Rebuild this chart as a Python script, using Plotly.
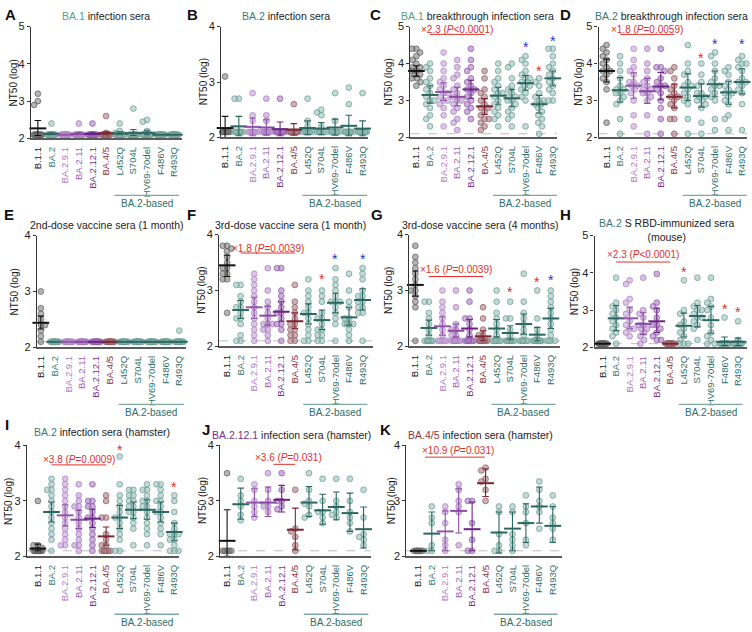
import math
import plotly.graph_objects as go

W, H = 752, 632

CATS = ["B.1.1", "BA.2", "BA.2.9.1", "BA.2.11", "BA.2.12.1", "BA.4/5",
        "L452Q", "S704L", "HV69-70del", "F486V", "R493Q"]

TEAL_T = "#2f6e69"
LABEL_COL = ["#1a1a1a", "#3a7a74", "#b07cc4", "#9d62b4", "#74308c", "#8a3542",
             TEAL_T, TEAL_T, TEAL_T, TEAL_T, TEAL_T]
TEAL_F = "rgba(145,188,181,0.55)"
TEAL_L = "rgba(100,150,143,0.85)"
PT_FILL = ["rgba(120,120,120,0.55)", TEAL_F, "rgba(196,160,214,0.6)", "rgba(190,150,208,0.6)",
           "rgba(170,124,192,0.6)", "rgba(170,124,130,0.6)", TEAL_F, TEAL_F, TEAL_F, TEAL_F, TEAL_F]
PT_LINE = ["rgba(88,88,88,0.85)", TEAL_L, "rgba(168,126,192,0.85)", "rgba(160,115,186,0.85)",
           "rgba(135,84,164,0.85)", "rgba(140,88,96,0.85)", TEAL_L, TEAL_L, TEAL_L, TEAL_L, TEAL_L]
TEAL_M = "#2b6761"
MEAN_COL = ["#111111", TEAL_M, "#9256aa", "#8a4aa4", "#6c2386", "#7c2633",
            TEAL_M, TEAL_M, TEAL_M, TEAL_M, TEAL_M]

# ---------------- data (log10 NT50) ----------------
A_vals = [
    [3.2, 3.0, 2.9, 2.1, 2.1, 2.1, 2.1, 2.1, 2.1, 2.1, 2.1, 2.1, 2.1, 2.1],
    [2.4, 2.1, 2.1, 2.1, 2.1, 2.1, 2.1, 2.1, 2.1, 2.1, 2.1, 2.1, 2.1, 2.1],
    [2.1, 2.1, 2.1, 2.1, 2.1, 2.1, 2.1, 2.1, 2.1, 2.1, 2.1, 2.1, 2.1, 2.1],
    [2.4, 2.1, 2.1, 2.1, 2.1, 2.1, 2.1, 2.1, 2.1, 2.1, 2.1, 2.1, 2.1, 2.1],
    [2.4, 2.1, 2.1, 2.1, 2.1, 2.1, 2.1, 2.1, 2.1, 2.1, 2.1, 2.1, 2.1, 2.1],
    [2.6, 2.15, 2.1, 2.1, 2.1, 2.1, 2.1, 2.1, 2.1, 2.1, 2.1, 2.1, 2.1, 2.1],
    [2.4, 2.2, 2.15, 2.1, 2.1, 2.1, 2.1, 2.1, 2.1, 2.1, 2.1, 2.1, 2.1, 2.1],
    [2.8, 2.1, 2.1, 2.1, 2.1, 2.1, 2.1, 2.1, 2.1, 2.1, 2.1, 2.1, 2.1, 2.1],
    [2.5, 2.45, 2.2, 2.1, 2.1, 2.1, 2.1, 2.1, 2.1, 2.1, 2.1, 2.1, 2.1, 2.1],
    [2.1, 2.1, 2.1, 2.1, 2.1, 2.1, 2.1, 2.1, 2.1, 2.1, 2.1, 2.1, 2.1, 2.1],
    [2.1, 2.1, 2.1, 2.1, 2.1, 2.1, 2.1, 2.1, 2.1, 2.1, 2.1, 2.1, 2.1, 2.1],
]
A_mean = [2.27, 2.12, 2.1, 2.12, 2.12, 2.14, 2.13, 2.14, 2.15, 2.1, 2.1]
A_lo = [2.08, 2.1, 2.1, 2.1, 2.1, 2.1, 2.1, 2.08, 2.1, 2.1, 2.1]
A_hi = [2.48, 2.15, 2.1, 2.15, 2.15, 2.18, 2.18, 2.24, 2.22, 2.1, 2.1]

B_vals = [
    [3.1, 2.1, 2.1, 2.1, 2.1, 2.1, 2.1, 2.1, 2.1, 2.1],
    [2.7, 2.7, 2.1, 2.1, 2.1, 2.1, 2.1, 2.1, 2.1, 2.1],
    [2.8, 2.4, 2.3, 2.1, 2.1, 2.1, 2.1, 2.1, 2.1, 2.1],
    [2.7, 2.4, 2.3, 2.1, 2.1, 2.1, 2.1, 2.1, 2.1, 2.1],
    [2.7, 2.1, 2.1, 2.1, 2.1, 2.1, 2.1, 2.1, 2.1, 2.1],
    [2.6, 2.1, 2.1, 2.1, 2.1, 2.1, 2.1, 2.1, 2.1, 2.1],
    [2.7, 2.3, 2.2, 2.1, 2.1, 2.1, 2.1, 2.1, 2.1, 2.1],
    [2.5, 2.45, 2.4, 2.2, 2.1, 2.1, 2.1, 2.1, 2.1, 2.1],
    [2.8, 2.3, 2.1, 2.1, 2.1, 2.1, 2.1, 2.1, 2.1, 2.1],
    [2.9, 2.6, 2.1, 2.1, 2.1, 2.1, 2.1, 2.1, 2.1, 2.1],
    [2.8, 2.1, 2.1, 2.1, 2.1, 2.1, 2.1, 2.1, 2.1, 2.1],
]
B_mean = [2.17, 2.2, 2.19, 2.18, 2.15, 2.14, 2.17, 2.16, 2.18, 2.21, 2.16]
B_lo = [2.0, 2.03, 2.03, 2.04, 2.03, 2.04, 2.05, 2.05, 2.04, 2.03, 2.03]
B_hi = [2.38, 2.38, 2.35, 2.32, 2.28, 2.25, 2.3, 2.27, 2.33, 2.4, 2.3]

C_vals = [
    [4.4, 4.4, 4.3, 4.2, 4.1, 4.0, 3.9, 3.9, 3.8, 3.8, 3.7, 3.7, 3.6, 3.6, 3.5, 3.4],
    [4.0, 3.9, 3.8, 3.6, 3.5, 3.4, 3.3, 3.2, 3.1, 3.0, 3.0, 2.9, 2.8, 2.6, 2.5, 2.3],
    [4.3, 4.0, 3.8, 3.6, 3.5, 3.4, 3.3, 3.2, 3.2, 3.1, 3.0, 3.0, 2.9, 2.8, 2.6, 2.3],
    [4.1, 3.9, 3.7, 3.6, 3.4, 3.3, 3.2, 3.1, 3.0, 2.9, 2.8, 2.7, 2.5, 2.4, 2.2, 3.0],
    [4.4, 4.1, 3.9, 3.8, 3.6, 3.5, 3.4, 3.3, 3.2, 3.1, 3.0, 2.9, 2.8, 2.7, 2.5, 3.3],
    [3.8, 3.6, 3.3, 3.2, 3.1, 3.0, 2.9, 2.8, 2.7, 2.6, 2.5, 2.5, 2.4, 2.3, 2.2, 2.8],
    [4.0, 3.8, 3.6, 3.5, 3.4, 3.3, 3.2, 3.1, 3.0, 2.9, 2.8, 2.7, 2.6, 2.5, 2.3, 3.2],
    [4.0, 3.9, 3.6, 3.4, 3.3, 3.2, 3.1, 3.0, 2.9, 2.8, 2.7, 2.6, 2.5, 2.3, 3.0, 3.1],
    [4.2, 4.1, 4.0, 3.8, 3.7, 3.6, 3.5, 3.5, 3.4, 3.4, 3.3, 3.2, 3.1, 3.0, 2.3, 3.6],
    [3.6, 3.5, 3.4, 3.2, 3.1, 3.0, 2.9, 2.8, 2.7, 2.6, 2.5, 2.4, 2.3, 2.1, 3.0, 2.9],
    [4.4, 4.4, 4.2, 4.0, 3.9, 3.8, 3.7, 3.6, 3.5, 3.4, 3.3, 3.2, 3.0, 3.0, 3.6, 3.8],
]
C_mean = [3.8, 3.15, 3.23, 3.1, 3.3, 2.84, 3.13, 3.06, 3.47, 2.9, 3.6]
C_lo = [3.66, 2.93, 3.0, 2.86, 3.06, 2.62, 2.9, 2.83, 3.28, 2.66, 3.4]
C_hi = [3.94, 3.4, 3.48, 3.36, 3.55, 3.05, 3.36, 3.3, 3.68, 3.14, 3.8]

D_vals = [
    [4.5, 4.4, 4.3, 4.2, 4.1, 4.0, 3.9, 3.8, 3.8, 3.7, 3.6, 3.5, 3.3, 2.4],
    [4.2, 4.0, 3.8, 3.6, 3.4, 3.3, 3.2, 3.1, 3.0, 2.9, 2.5, 2.1, 3.3, 3.2],
    [4.4, 4.1, 3.9, 3.8, 3.7, 3.5, 3.4, 3.3, 3.2, 3.0, 2.6, 2.3, 3.4, 3.5],
    [4.4, 4.0, 3.8, 3.6, 3.4, 3.3, 3.2, 3.1, 3.0, 2.6, 2.1, 3.2, 3.3, 3.5],
    [4.4, 3.9, 3.9, 3.8, 3.6, 3.5, 3.4, 3.3, 3.2, 3.0, 2.8, 2.5, 2.1, 3.4],
    [3.9, 3.8, 3.6, 3.4, 3.3, 3.2, 3.1, 3.0, 2.9, 2.8, 2.5, 2.5, 2.1, 3.1],
    [4.5, 4.0, 3.8, 3.7, 3.5, 3.4, 3.3, 3.2, 3.1, 3.0, 2.9, 2.5, 2.1, 3.4],
    [4.0, 3.7, 3.5, 3.4, 3.2, 3.1, 3.0, 2.9, 2.8, 2.4, 2.1, 3.0, 3.1, 3.2],
    [4.3, 4.2, 4.0, 3.8, 3.6, 3.5, 3.4, 3.3, 3.2, 3.1, 3.0, 2.5, 2.2, 3.4],
    [3.9, 3.8, 3.7, 3.5, 3.4, 3.3, 3.2, 3.1, 3.0, 2.9, 2.6, 2.5, 2.2, 3.2],
    [4.2, 4.1, 4.0, 4.0, 3.9, 3.8, 3.6, 3.5, 3.4, 3.3, 3.2, 2.9, 2.2, 3.5],
]
D_mean = [3.8, 3.28, 3.4, 3.25, 3.38, 3.1, 3.35, 3.12, 3.44, 3.22, 3.5]
D_lo = [3.5, 2.96, 3.06, 2.92, 3.02, 2.8, 3.0, 2.82, 3.1, 2.9, 3.18]
D_hi = [4.12, 3.62, 3.75, 3.6, 3.76, 3.44, 3.72, 3.45, 3.8, 3.52, 3.86]

E_vals = [
    [3.0, 2.7, 2.65, 2.6, 2.5, 2.45, 2.4, 2.4, 2.35, 2.3, 2.2, 2.1, 2.1],
    [2.1, 2.1, 2.1, 2.1, 2.1, 2.1, 2.1, 2.1, 2.1, 2.1, 2.1, 2.1, 2.1],
    [2.1, 2.1, 2.1, 2.1, 2.1, 2.1, 2.1, 2.1, 2.1, 2.1, 2.1, 2.1, 2.1],
    [2.1, 2.1, 2.1, 2.1, 2.1, 2.1, 2.1, 2.1, 2.1, 2.1, 2.1, 2.1, 2.1],
    [2.1, 2.1, 2.1, 2.1, 2.1, 2.1, 2.1, 2.1, 2.1, 2.1, 2.1, 2.1, 2.1],
    [2.1, 2.1, 2.1, 2.1, 2.1, 2.1, 2.1, 2.1, 2.1, 2.1, 2.1, 2.1, 2.1],
    [2.1, 2.1, 2.1, 2.1, 2.1, 2.1, 2.1, 2.1, 2.1, 2.1, 2.1, 2.1, 2.1],
    [2.1, 2.1, 2.1, 2.1, 2.1, 2.1, 2.1, 2.1, 2.1, 2.1, 2.1, 2.1, 2.1],
    [2.1, 2.1, 2.1, 2.1, 2.1, 2.1, 2.1, 2.1, 2.1, 2.1, 2.1, 2.1, 2.1],
    [2.1, 2.1, 2.1, 2.1, 2.1, 2.1, 2.1, 2.1, 2.1, 2.1, 2.1, 2.1, 2.1],
    [2.3, 2.1, 2.1, 2.1, 2.1, 2.1, 2.1, 2.1, 2.1, 2.1, 2.1, 2.1, 2.1],
]
E_mean = [2.44, 2.1, 2.1, 2.1, 2.1, 2.1, 2.1, 2.1, 2.1, 2.1, 2.1]
E_lo = [2.33, 2.1, 2.1, 2.1, 2.1, 2.1, 2.1, 2.1, 2.1, 2.1, 2.1]
E_hi = [2.56, 2.1, 2.1, 2.1, 2.1, 2.1, 2.1, 2.1, 2.1, 2.1, 2.1]

F_vals = [
    [3.8, 3.8, 3.75, 3.7, 3.6, 3.5, 3.4, 3.4, 3.3, 3.3, 3.2, 3.2, 2.6],
    [3.1, 3.1, 2.9, 2.8, 2.7, 2.7, 2.6, 2.5, 2.5, 2.4, 2.2, 2.1, 2.1],
    [3.3, 3.2, 3.1, 3.0, 2.9, 2.8, 2.7, 2.6, 2.5, 2.4, 2.3, 2.2, 2.1],
    [3.4, 3.0, 2.8, 2.7, 2.6, 2.5, 2.4, 2.4, 2.3, 2.3, 2.2, 2.1, 2.4],
    [3.4, 3.4, 3.0, 2.9, 2.8, 2.7, 2.6, 2.5, 2.4, 2.4, 2.3, 2.1, 2.6],
    [3.1, 2.8, 2.7, 2.6, 2.5, 2.4, 2.4, 2.3, 2.2, 2.2, 2.1, 2.1, 2.3],
    [3.2, 3.0, 2.9, 2.8, 2.7, 2.6, 2.5, 2.4, 2.3, 2.2, 2.1, 2.1, 2.6],
    [3.0, 2.9, 2.8, 2.6, 2.5, 2.4, 2.3, 2.3, 2.2, 2.2, 2.1, 2.1, 2.5],
    [3.4, 3.2, 3.1, 3.0, 2.9, 2.8, 2.8, 2.7, 2.6, 2.5, 2.4, 2.1, 2.8],
    [3.3, 3.0, 2.8, 2.7, 2.5, 2.4, 2.4, 2.4, 2.3, 2.2, 2.1, 2.4, 2.5],
    [3.4, 3.3, 3.2, 3.0, 2.9, 2.8, 2.8, 2.7, 2.7, 2.6, 2.6, 2.1, 2.9],
]
F_mean = [3.45, 2.65, 2.7, 2.55, 2.62, 2.45, 2.58, 2.47, 2.78, 2.52, 2.83]
F_lo = [3.25, 2.5, 2.5, 2.38, 2.45, 2.32, 2.4, 2.3, 2.6, 2.38, 2.65]
F_hi = [3.63, 2.82, 2.88, 2.72, 2.8, 2.6, 2.76, 2.65, 2.95, 2.7, 3.03]

G_vals = [
    [3.8, 3.6, 3.5, 3.4, 3.3, 3.2, 3.1, 3.0, 3.0, 2.9, 2.8, 2.7, 2.1],
    [2.8, 2.8, 2.6, 2.5, 2.4, 2.3, 2.2, 2.1, 2.1, 2.1, 2.1, 2.1, 2.1],
    [3.0, 2.8, 2.7, 2.6, 2.5, 2.4, 2.3, 2.2, 2.1, 2.1, 2.1, 2.1, 2.1],
    [3.0, 2.7, 2.4, 2.3, 2.3, 2.2, 2.2, 2.1, 2.1, 2.1, 2.1, 2.1, 2.1],
    [3.0, 2.8, 2.5, 2.5, 2.4, 2.3, 2.2, 2.1, 2.1, 2.1, 2.1, 2.1, 2.1],
    [2.7, 2.5, 2.3, 2.2, 2.2, 2.1, 2.1, 2.1, 2.1, 2.1, 2.1, 2.1, 2.1],
    [3.0, 2.8, 2.6, 2.5, 2.4, 2.3, 2.2, 2.1, 2.1, 2.1, 2.1, 2.1, 2.1],
    [2.8, 2.5, 2.5, 2.3, 2.2, 2.1, 2.1, 2.1, 2.1, 2.1, 2.1, 2.1, 2.1],
    [3.3, 2.8, 2.6, 2.5, 2.4, 2.3, 2.2, 2.1, 2.1, 2.1, 2.1, 2.1, 2.1],
    [3.0, 2.5, 2.3, 2.2, 2.1, 2.1, 2.1, 2.1, 2.1, 2.1, 2.1, 2.1, 2.1],
    [3.0, 2.9, 2.8, 2.7, 2.6, 2.5, 2.4, 2.3, 2.2, 2.1, 2.1, 2.1, 2.1],
]
G_mean = [3.1, 2.33, 2.36, 2.28, 2.32, 2.18, 2.32, 2.24, 2.4, 2.21, 2.5]
G_lo = [2.9, 2.2, 2.2, 2.17, 2.17, 2.1, 2.17, 2.12, 2.22, 2.1, 2.32]
G_hi = [3.35, 2.47, 2.53, 2.4, 2.48, 2.28, 2.48, 2.37, 2.58, 2.34, 2.68]

H_vals = [
    [2.1, 2.1, 2.1, 2.1, 2.1, 2.1, 2.1, 2.1, 2.1, 2.1, 2.1, 2.1],
    [3.87, 3.2, 3.1, 3.0, 2.9, 2.7, 2.6, 2.5, 2.4, 2.3, 2.1, 2.8],
    [3.8, 3.7, 3.3, 3.2, 3.0, 2.9, 2.7, 2.6, 2.5, 2.5, 2.4, 2.3],
    [3.87, 3.0, 2.9, 2.8, 2.6, 2.5, 2.4, 2.3, 2.2, 2.1, 2.5, 2.6],
    [3.97, 3.2, 3.1, 3.0, 2.8, 2.6, 2.5, 2.4, 2.3, 2.2, 2.2, 2.6],
    [2.1, 2.1, 2.1, 2.1, 2.1, 2.1, 2.1, 2.1, 2.1, 2.1, 2.1, 2.1],
    [3.8, 3.0, 2.9, 2.7, 2.5, 2.4, 2.3, 2.2, 2.1, 2.1, 2.1, 2.6],
    [3.87, 3.2, 3.1, 3.0, 2.9, 2.8, 2.7, 2.6, 2.5, 2.2, 2.8, 3.0],
    [3.87, 3.3, 3.2, 3.1, 3.0, 2.8, 2.6, 2.4, 2.3, 2.2, 2.1, 2.1],
    [2.8, 2.1, 2.1, 2.1, 2.1, 2.1, 2.1, 2.1, 2.1, 2.1, 2.1, 2.1],
    [2.7, 2.2, 2.1, 2.1, 2.1, 2.1, 2.1, 2.1, 2.1, 2.1, 2.1, 2.1],
]
H_mean = [2.1, 2.78, 2.78, 2.63, 2.7, 2.1, 2.58, 2.84, 2.73, 2.15, 2.15]
H_lo = [2.1, 2.45, 2.5, 2.35, 2.4, 2.1, 2.28, 2.55, 2.38, 2.05, 2.05]
H_hi = [2.1, 3.12, 3.08, 2.93, 3.05, 2.1, 2.92, 3.12, 3.1, 2.28, 2.25]

I_vals = [
    [3.0, 2.2, 2.2, 2.15, 2.1, 2.1, 2.1, 2.1, 2.1, 2.1, 2.1, 2.1, 2.1, 2.1],
    [3.4, 3.3, 3.2, 3.1, 3.0, 2.9, 2.8, 2.7, 2.6, 2.5, 2.4, 2.3, 2.1, 3.2],
    [3.4, 3.3, 3.2, 3.1, 3.0, 2.9, 2.8, 2.7, 2.6, 2.5, 2.4, 2.3, 2.2, 2.2],
    [3.3, 3.1, 3.0, 2.9, 2.8, 2.7, 2.6, 2.5, 2.4, 2.3, 2.2, 2.1, 2.9, 2.2],
    [3.3, 3.0, 3.0, 2.9, 2.8, 2.7, 2.6, 2.5, 2.4, 2.3, 2.2, 2.1, 2.9, 2.7],
    [3.1, 3.0, 2.7, 2.7, 2.4, 2.3, 2.2, 2.2, 2.1, 2.1, 2.1, 2.1, 2.1, 2.1],
    [3.8, 3.3, 3.1, 3.0, 2.8, 2.7, 2.6, 2.5, 2.4, 2.3, 2.1, 2.1, 2.7, 2.9],
    [3.2, 3.2, 3.1, 3.0, 2.9, 2.8, 2.7, 2.6, 2.5, 2.2, 3.1, 2.9, 2.8, 3.0],
    [3.3, 3.2, 3.1, 3.0, 2.9, 2.8, 2.7, 2.6, 2.5, 2.4, 2.2, 3.0, 3.2, 2.9],
    [3.3, 3.3, 3.2, 3.0, 2.9, 2.8, 2.7, 2.6, 2.5, 2.4, 2.2, 3.1, 3.0, 2.8],
    [3.1, 3.0, 2.8, 2.6, 2.5, 2.4, 2.4, 2.3, 2.2, 2.1, 2.1, 2.1, 2.4, 2.3],
]
I_mean = [2.14, 2.8, 2.74, 2.66, 2.68, 2.36, 2.7, 2.84, 2.84, 2.8, 2.44]
I_lo = [2.1, 2.62, 2.55, 2.5, 2.52, 2.2, 2.5, 2.68, 2.67, 2.62, 2.28]
I_hi = [2.22, 2.98, 2.93, 2.83, 2.85, 2.53, 2.92, 2.98, 3.02, 2.98, 2.6]

J_vals = [
    [3.5, 2.1, 2.1, 2.1, 2.1, 2.1],
    [3.4, 3.1, 3.0, 2.9, 2.75, 2.65],
    [3.3, 3.2, 3.0, 2.9, 2.8, 2.7],
    [3.5, 3.2, 3.0, 2.9, 2.9, 2.8],
    [3.5, 3.2, 3.0, 3.0, 2.9, 2.85],
    [3.2, 2.5, 2.45, 2.35, 2.2, 2.1],
    [3.5, 3.2, 3.0, 2.95, 2.9, 2.75, 2.7],
    [3.4, 3.0, 2.8, 2.8, 2.7, 2.6],
    [3.4, 3.0, 2.9, 2.8, 2.75, 2.7],
    [3.4, 3.0, 2.8, 2.7, 2.6, 2.45],
    [3.2, 2.7, 2.4, 2.35, 2.3, 2.2],
]
J_mean = [2.28, 2.94, 2.97, 2.97, 3.02, 2.48, 2.97, 2.83, 2.89, 2.78, 2.49]
J_lo = [2.0, 2.67, 2.72, 2.72, 2.8, 2.12, 2.72, 2.58, 2.66, 2.45, 2.15]
J_hi = [2.84, 3.23, 3.22, 3.25, 3.28, 2.87, 3.26, 3.12, 3.16, 3.14, 2.89]

K_vals = [
    [2.1, 2.1, 2.1, 2.1, 2.1, 2.1],
    [2.9, 2.7, 2.6, 2.2, 2.1, 2.1],
    [2.9, 2.8, 2.6, 2.3, 2.2, 2.1],
    [3.3, 3.2, 3.0, 2.9, 2.8, 2.2],
    [3.0, 3.0, 2.6, 2.3, 2.1, 2.1],
    [3.6, 3.55, 3.4, 3.35, 3.2, 3.0],
    [2.9, 2.8, 2.4, 2.2, 2.1, 2.1],
    [2.9, 2.8, 2.4, 2.3, 2.2, 2.1],
    [3.1, 2.9, 2.8, 2.6, 2.3, 2.2],
    [3.35, 3.2, 3.0, 2.9, 2.8, 2.5],
    [3.1, 2.9, 2.7, 2.6, 2.5, 2.3],
]
K_mean = [2.1, 2.41, 2.45, 2.82, 2.49, 3.32, 2.43, 2.5, 2.6, 2.9, 2.55]
K_lo = [2.1, 2.1, 2.1, 2.42, 2.1, 3.08, 2.06, 2.1, 2.25, 2.6, 2.25]
K_hi = [2.1, 2.8, 2.82, 3.22, 2.98, 3.58, 2.8, 2.8, 2.95, 3.25, 2.9]

# fold-change annotations
FOLD_PANEL = ["C", "D", "F", "G", "H", "I", "J", "K"]
FOLD_TEXT = ["×2.3 (<i>P</i>&lt;0.0001)", "×1.8 (<i>P</i>=0.0059)", "×1.8 (<i>P</i>=0.0039)",
             "×1.6 (<i>P</i>=0.0039)", "×2.3 (<i>P</i>&lt;0.0001)", "×3.8 (<i>P</i>=0.0009)",
             "×3.6 (<i>P</i>=0.031)", "×10.9 (<i>P</i>=0.031)"]
FOLD_TEXT_Y = [4.92, 4.92, 3.75, 3.37, 4.5, 3.75, 3.79, 3.91]
FOLD_LINE_Y = [4.79, 4.79, 3.67, 3.25, 4.29, 3.65, 3.66, 3.79]
FOLD_X0 = [1, 1, 1, 1, 1, 1, 3.4, 0.5]
FOLD_X1 = [5, 5, 5, 5, 5, 5, 5, 4.95]
FOLD_TX = [3, 3, 3, 3, 3, 3, 4.5, 2.95]

# significance stars
STAR_PANEL = ["C", "C", "C", "D", "D", "D", "F", "F", "F", "G", "G", "G", "H", "H", "H", "I", "I"]
STAR_CAT = [8, 9, 10, 7, 8, 10, 7, 8, 10, 7, 9, 10, 6, 9, 10, 6, 10]
STAR_Y = [4.52, 3.88, 4.7, 4.23, 4.6, 4.6, 3.26, 3.61, 3.61, 3.02, 3.21, 3.25, 4.1, 3.1, 3.03, 3.98, 3.31]
STAR_COL = ["b", "r", "b", "r", "b", "b", "r", "b", "b", "r", "r", "b", "r", "r", "r", "r", "r"]

BA1_C = "#4fa383"
BA2_C = "#3b7a74"
TITLES = {
    "A": f'<span style="color:{BA1_C}">BA.1</span> infection sera',
    "B": f'<span style="color:{BA2_C}">BA.2</span> infection sera',
    "C": f'<span style="color:{BA1_C}">BA.1</span> breakthrough infection sera',
    "D": f'<span style="color:{BA2_C}">BA.2</span> breakthrough infection sera',
    "E": "2nd-dose vaccine sera (1 month)",
    "F": "3rd-dose vaccine sera (1 month)",
    "G": "3rd-dose vaccine sera (4 months)",
    "H": f'<span style="color:{BA2_C}">BA.2</span> S RBD-immunized sera<br>(mouse)',
    "I": f'<span style="color:{BA2_C}">BA.2</span> infection sera (hamster)',
    "J": '<span style="color:#74308c">BA.2.12.1</span> infection sera (hamster)',
    "K": '<span style="color:#8a3542">BA.4/5</span> infection sera (hamster)',
}

DATA = {
    "A": (A_vals, A_mean, A_lo, A_hi), "B": (B_vals, B_mean, B_lo, B_hi),
    "C": (C_vals, C_mean, C_lo, C_hi), "D": (D_vals, D_mean, D_lo, D_hi),
    "E": (E_vals, E_mean, E_lo, E_hi), "F": (F_vals, F_mean, F_lo, F_hi),
    "G": (G_vals, G_mean, G_lo, G_hi), "H": (H_vals, H_mean, H_lo, H_hi),
    "I": (I_vals, I_mean, I_lo, I_hi), "J": (J_vals, J_mean, J_lo, J_hi),
    "K": (K_vals, K_mean, K_lo, K_hi),
}

# ---------------- layout geometry (pixels) ----------------
# letter: axis_x0, axis_x1, first_cat_x, spacing, y_top, y_bottom, ymax, row,
#         title_cx, title_cy, letter_x, letter_y, ytitle_x
GEOM = {
    "A": (29, 181, 36, 13.7, 21, 135, 5, 0, 104, 10, 9, 9, 12),
    "B": (220, 367, 224, 13.8, 21, 134, 4, 0, 285, 10, 191, 9, 202),
    "C": (410, 557, 416, 13.7, 21, 134, 5, 0, 477, 10, 375, 9, 388),
    "D": (599, 748, 607, 13.6, 21, 134, 5, 0, 672, 10, 566, 9, 578),
    "E": (35, 185, 39, 13.9, 234, 348, 4, 1, 105, 223, 7, 213, 13),
    "F": (218, 372, 226, 13.6, 233, 347, 4, 1, 290, 223, 190, 213, 200),
    "G": (409, 560, 415, 13.6, 233, 347, 4, 1, 480, 223, 376, 213, 388),
    "H": (595, 748, 603, 13.6, 234, 348, 5, 1, 668, 228, 566, 213, 575),
    "I": (25, 178, 36, 13.7, 448, 561, 4, 2, 100, 434, 5, 427, 7),
    "J": (219, 370, 226, 13.7, 448, 561, 4, 2, 291, 437, 205, 432, 202),
    "K": (406, 562, 418, 13.5, 448, 561, 4, 2, 480, 437, 385, 432, 391),
}
ROW_LINE_Y = [193, 406, 620]
ROW_TEXT_Y = [201, 414, 628]

FONT = "Liberation Sans, Arial, Helvetica, sans-serif"
TICKTEXT = [f'<span style="color:{c}">{t}</span>' for t, c in zip(CATS, LABEL_COL)]


def py(p):
    return 1 - p / H


def px(p):
    return p / W


def swarm(vals, ppu, d=5.3, maxw=4.3):
    order = sorted(range(len(vals)), key=lambda i: -vals[i])
    placed = []
    offs = [0.0] * len(vals)
    for i in order:
        y = vals[i] * ppu
        cands = [0.0]
        for xj, yj in placed:
            dy = y - yj
            if abs(dy) < d:
                dx = math.sqrt(d * d - dy * dy)
                cands += [xj + dx, xj - dx]
        cands = sorted(set(cands), key=lambda c: (abs(c), c))
        chosen = None
        for c in cands:
            if abs(c) > maxw:
                continue
            if all((c - xj) ** 2 + (y - yj) ** 2 >= d * d - 1e-6 for xj, yj in placed):
                chosen = c
                break
        if chosen is None:
            grid = sorted([k * maxw / 10 for k in range(-10, 11)], key=lambda c: (abs(c), c))
            best, bestd = 0.0, -1
            for c in grid:
                md = min((c - xj) ** 2 + (y - yj) ** 2 for xj, yj in placed)
                if md > bestd + 1e-9:
                    bestd, best = md, c
            chosen = best
        placed.append((chosen, y))
        offs[i] = chosen
    return offs


def ann(**kw):
    d = dict(showarrow=False, xanchor="center", yanchor="middle")
    d.update(kw)
    return d


fig = go.Figure()
annotations = []
shapes = []
layout_axes = {}

for k, L in enumerate(GEOM):
    x0, x1, c0, sp, yt, yb, ymax, row, tcx, tcy, lx, ly, ytx = GEOM[L]
    vals, mean, lo, hi = DATA[L]
    suf = "" if k == 0 else str(k + 1)
    xn, yn = "x" + suf, "y" + suf
    ppu = (yb - yt) / (ymax - 2)

    for ci in range(len(CATS)):
        offs = swarm(vals[ci], ppu)
        fig.add_trace(go.Scatter(
            x=[ci + o / sp for o in offs], y=vals[ci], mode="markers",
            xaxis=xn, yaxis=yn, cliponaxis=False, showlegend=False, hoverinfo="skip",
            marker=dict(size=5.8, color=PT_FILL[ci], line=dict(color=PT_LINE[ci], width=0.8))))
    for ci in range(len(CATS)):
        fig.add_trace(go.Scatter(
            x=[ci], y=[mean[ci]], mode="markers", xaxis=xn, yaxis=yn, cliponaxis=False,
            showlegend=False, hoverinfo="skip",
            marker=dict(symbol="line-ew-open", size=12, color=MEAN_COL[ci],
                        line=dict(color=MEAN_COL[ci], width=2)),
            error_y=dict(type="data", symmetric=False, array=[hi[ci] - mean[ci]],
                         arrayminus=[mean[ci] - lo[ci]], color=MEAN_COL[ci],
                         thickness=1.1, width=3.3)))

    layout_axes["xaxis" + suf] = dict(
        domain=[px(x0), px(x1)], range=[(x0 - c0) / sp, (x1 - c0) / sp], anchor=yn,
        showline=True, linecolor="#5a5a5a", linewidth=1.5, ticks="", showgrid=False,
        zeroline=False, tickmode="array", tickvals=list(range(len(CATS))), ticktext=TICKTEXT,
        tickangle=-90, tickfont=dict(size=9.5, family=FONT), ticklabelstandoff=3, fixedrange=True)
    layout_axes["yaxis" + suf] = dict(
        domain=[py(yb), py(yt)], range=[2, ymax], anchor=xn, showline=True, linecolor="#333333",
        linewidth=1.3, ticks="outside", ticklen=3, tickwidth=1, tickcolor="#333333",
        tickmode="array", tickvals=list(range(2, ymax + 1)), showgrid=False, zeroline=False,
        tickfont=dict(size=11, family=FONT, color="#222222"), fixedrange=True)

    shapes.append(dict(type="line", xref=xn + " domain", x0=0, x1=1, yref=yn, y0=2.1, y1=2.1,
                       line=dict(color="#b4b4b4", width=0.9, dash="dash"), layer="below"))
    shapes.append(dict(type="line", xref=xn, x0=5.62, x1=10.35, yref="paper",
                       y0=py(ROW_LINE_Y[row]), y1=py(ROW_LINE_Y[row]),
                       line=dict(color="#7ea7a2", width=1.3)))
    annotations.append(ann(xref=xn, x=7.98, yref="paper", y=py(ROW_TEXT_Y[row]),
                           text="BA.2-based", font=dict(size=10, color=TEAL_T, family=FONT)))
    annotations.append(ann(xref="paper", yref="paper", x=px(tcx), y=py(tcy), text=TITLES[L],
                           font=dict(size=10.5, color="#222222", family=FONT)))
    annotations.append(ann(xref="paper", yref="paper", x=px(lx), y=py(ly), text=f"<b>{L}</b>",
                           font=dict(size=15, color="#111111", family=FONT)))
    annotations.append(ann(xref="paper", yref="paper", x=px(ytx), y=py((yt + yb) / 2),
                           text="NT50 (log)", textangle=-90,
                           font=dict(size=10, color="#222222", family=FONT)))

    for j, fp in enumerate(FOLD_PANEL):
        if fp != L:
            continue
        shapes.append(dict(type="line", xref=xn, yref=yn, x0=FOLD_X0[j], x1=FOLD_X1[j],
                           y0=FOLD_LINE_Y[j], y1=FOLD_LINE_Y[j],
                           line=dict(color="#e0302c", width=1)))
        annotations.append(ann(xref=xn, yref=yn, x=FOLD_TX[j], y=FOLD_TEXT_Y[j],
                               text=FOLD_TEXT[j], font=dict(size=10, color="#e0302c", family=FONT)))
    for j, sp_ in enumerate(STAR_PANEL):
        if sp_ != L:
            continue
        annotations.append(ann(xref=xn, yref=yn, x=STAR_CAT[j], y=STAR_Y[j], text="*",
                               yshift=-3,
                               font=dict(size=14, family=FONT,
                                         color="#2b2bdc" if STAR_COL[j] == "b" else "#e52a2a")))

fig.update_layout(width=W, height=H, margin=dict(l=0, r=0, t=0, b=0),
                  paper_bgcolor="white", plot_bgcolor="white", showlegend=False,
                  font=dict(family=FONT, color="#222222"),
                  annotations=annotations, shapes=shapes, **layout_axes)

fig.write_html("out.html", config={"displayModeBar": False},
               post_script="document.body.style.margin='0';")
